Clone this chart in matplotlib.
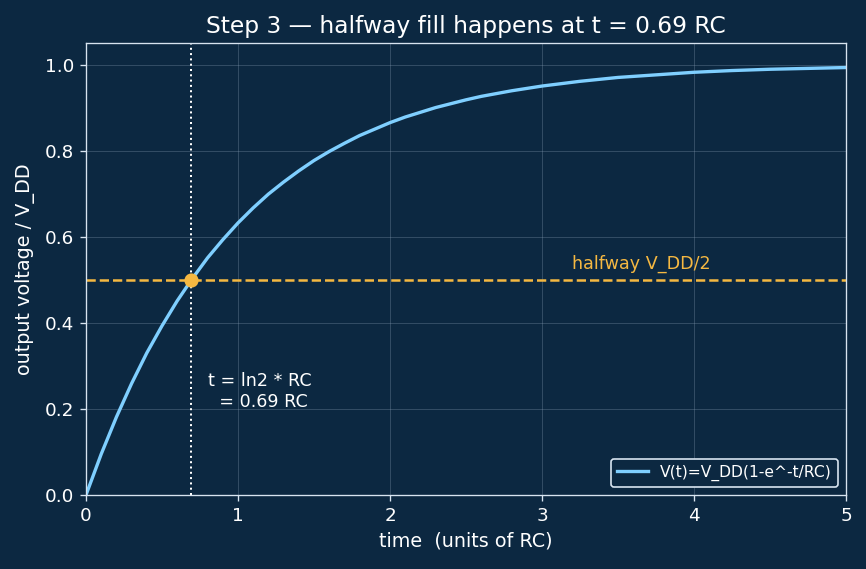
import numpy as np
import matplotlib
matplotlib.use("Agg")
import matplotlib.pyplot as plt

# values (time in RC units, output voltage / V_DD)
t_vals = [0.0, 0.1, 0.2, 0.3, 0.4, 0.5, 0.6, 0.7, 0.8, 0.9, 1.0,
          1.1, 1.2, 1.3, 1.4, 1.5, 1.6, 1.7, 1.8, 1.9, 2.0, 2.1, 2.2, 2.3, 2.4,
          2.5, 2.6, 2.8, 3.0, 3.25, 3.5, 3.75, 4.0, 4.25, 4.5, 4.75, 5.0]
v_vals = [0.0, 0.095, 0.181, 0.259, 0.330, 0.393, 0.451, 0.503, 0.551, 0.593, 0.632,
          0.667, 0.699, 0.727, 0.753, 0.777, 0.798, 0.817, 0.835, 0.850, 0.865, 0.878,
          0.889, 0.900, 0.909, 0.918, 0.926, 0.939, 0.950, 0.961, 0.970, 0.976, 0.982,
          0.986, 0.989, 0.991, 0.993]
t_half = 0.69
v_half = 0.5

bg = "#0c2841"
fg = "#ffffff"
blue = "#7fcfff"
orange = "#f5b841"

fig = plt.figure(figsize=(866/120, 569/120), dpi=120, facecolor=bg)
ax = fig.add_axes([86/866, 1 - 495/569, 760/866, 452/569])
ax.set_facecolor(bg)

ax.plot(t_vals, v_vals, color=blue, lw=2.0, label="V(t)=V_DD(1-e^-t/RC)")
ax.axhline(v_half, color=orange, ls="--", lw=1.5)
ax.axvline(t_half, color=fg, ls=":", lw=1.2)
ax.plot([t_half], [v_half], "o", color=orange, ms=7.5, zorder=5)

ax.text(3.2, 0.525, "halfway V_DD/2", color=orange, fontsize=10.5)
ax.text(0.8, 0.205, "t = ln2 * RC\n  = 0.69 RC", color=fg, fontsize=10.5)

ax.set_xlim(0, 5)
ax.set_ylim(0, 1.05)
ax.set_xticks([0, 1, 2, 3, 4, 5])
ax.set_yticks([0.0, 0.2, 0.4, 0.6, 0.8, 1.0])
ax.grid(True, color="#8aa0b8", alpha=0.3, lw=0.6)
for s in ax.spines.values():
    s.set_color("#d8e4f0")
ax.tick_params(colors=fg, labelsize=11, color="#d8e4f0")
ax.set_xlabel("time  (units of RC)", color=fg, fontsize=11.5)
ax.set_ylabel("output voltage / V_DD", color=fg, fontsize=11.5, labelpad=6)
ax.set_title("Step 3 \u2014 halfway fill happens at t = 0.69 RC", color=fg, fontsize=14)

leg = ax.legend(loc="lower right", fontsize=9.3, facecolor=bg, edgecolor="#d8e4f0",
                labelcolor=fg, framealpha=1)

fig.savefig("out.png", dpi=120, facecolor=bg)
